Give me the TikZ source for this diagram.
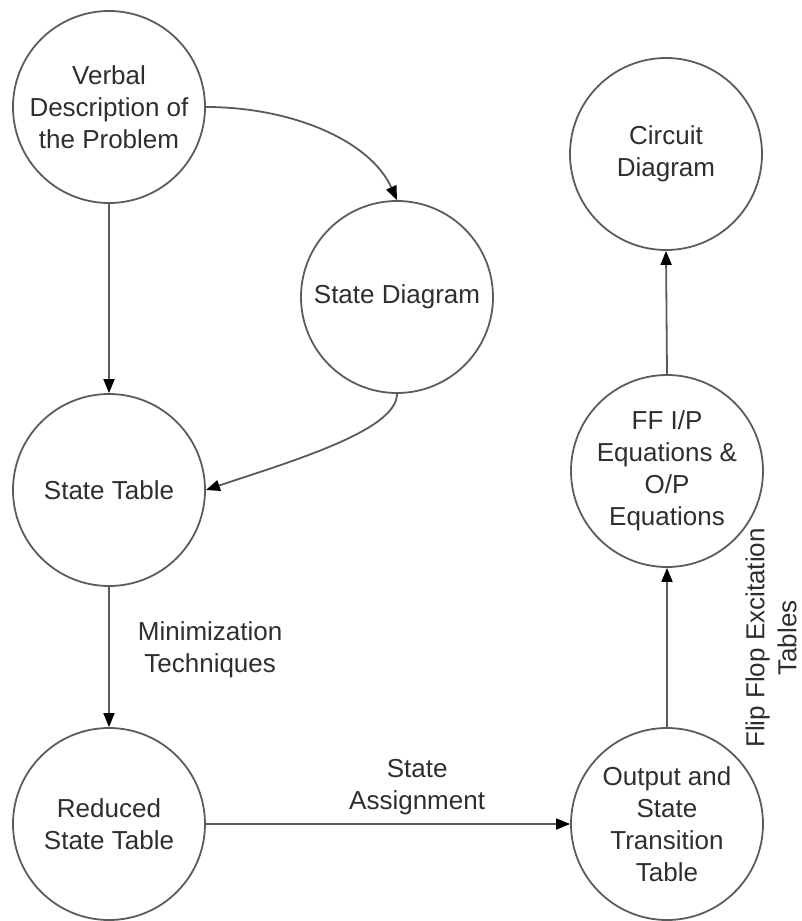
\documentclass[tikz,border=0pt]{standalone}
\usepackage{fontspec}
\setmainfont{Liberation Sans}
\usetikzlibrary{arrows.meta}
\definecolor{circgray}{HTML}{5C5C5C}
\definecolor{linegray}{HTML}{5A5A5A}
\definecolor{txt}{HTML}{2E2E2E}
\begin{document}
\begin{tikzpicture}[x=1pt,y=-1pt,
  state/.style={circle, draw=circgray, line width=1.8pt, minimum size=192pt, inner sep=0pt, align=center, text=txt, font=\fontsize{26}{32}\selectfont},
  flow/.style={draw=linegray, line width=1.8pt, -{Triangle[length=14pt,width=11pt,color=black]}},
  lbl/.style={text=txt, align=center, inner sep=0pt, font=\fontsize{26}{32}\selectfont}]
\useasboundingbox (0,0) rectangle (802,921);
\node[state] (V)  at (109,107) {Verbal\\Description of\\the Problem};
\node[state] (SD) at (397,297) {State Diagram};
\node[state] (C)  at (666,154) {Circuit\\Diagram};
\node[state] (ST) at (109,490) {State Table};
\node[state] (FF) at (667,471) {FF I/P\\Equations \&\\O/P\\Equations};
\node[state] (R)  at (109,824) {Reduced\\State Table};
\node[state] (O)  at (667,824) {Output and\\State\\Transition\\Table};
\draw[flow] (V.south) -- (ST.north);
\draw[flow] (V.east) .. controls +(85,0) and +(-27,-60) .. (SD.north);
\draw[flow] (SD.south) .. controls +(0,37) and +(83,-28) .. (ST.east);
\draw[flow] (ST.south) -- node[lbl, right=28pt, pos=0.45] (m) {Minimization\\Techniques} (R.north);
\draw[flow] (R.east) -- node[lbl, above=8pt, pos=0.58] (sa) {State\\Assignment} (O.west);
\draw[flow] (O.north) -- (FF.south);
\draw[flow] (FF.north) -- (C.south);
\node[lbl, rotate=90] (ff) at (771,638) {Flip Flop Excitation\\Tables};
\end{tikzpicture}
\end{document}
